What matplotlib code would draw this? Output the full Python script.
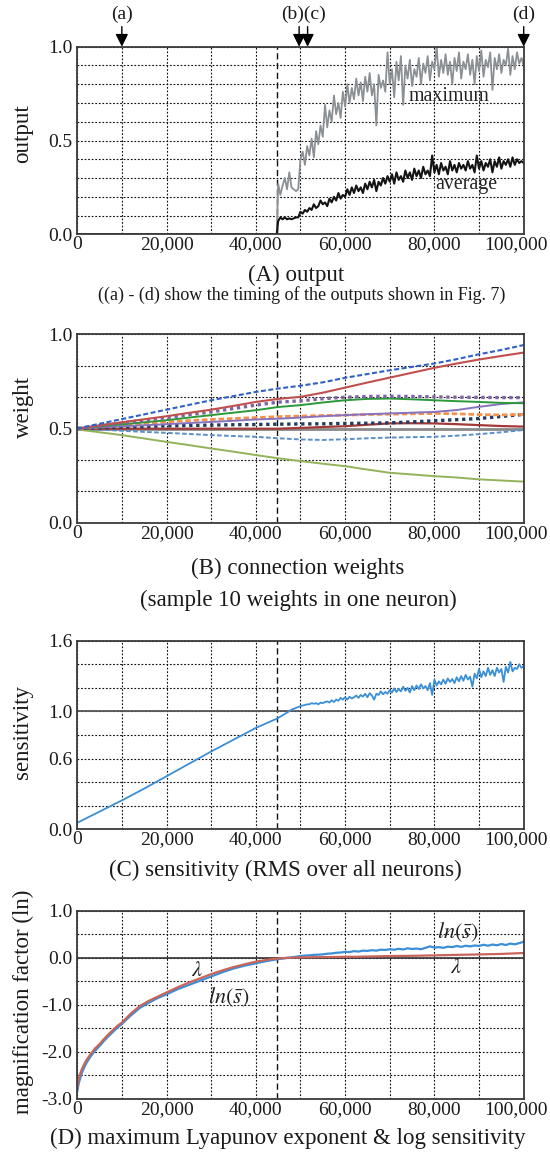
import numpy as np
import matplotlib
matplotlib.use("Agg")
import matplotlib.pyplot as plt
from matplotlib.transforms import blended_transform_factory, ScaledTranslation

plt.rcParams['font.family'] = ['Liberation Serif', 'DejaVu Serif']
plt.rcParams['mathtext.fontset'] = 'stix'
plt.rcParams['axes.unicode_minus'] = False

# ---------------------------------------------------------------- data
ONSET = 44800                       # step where the network starts to fire
ARROW_STEPS = [10000, 49700, 51600, 100000]
ARROW_LABELS = ["(a)", "(b)(c)", "(d)"]
ARROW_LABEL_X = [10000, 50700, 100000]

# (A) output: maximum and average over neurons
out_steps = [0, 44700] + list(range(45000, 100001, 500))
out_max = [0.0, 0.0,
           0.27, 0.21, 0.26, 0.30, 0.24, 0.33, 0.25, 0.24, 0.23, 0.24,
           0.40, 0.44, 0.37, 0.47, 0.42, 0.51, 0.41, 0.55, 0.48, 0.58,
           0.52, 0.69, 0.57, 0.66, 0.60, 0.74, 0.64, 0.70, 0.62, 0.76,
           0.68, 0.80, 0.70, 0.78, 0.72, 0.83, 0.74, 0.81, 0.71, 0.84,
           0.76, 0.86, 0.74, 0.80, 0.58, 0.85, 0.78, 0.82, 0.76, 0.97,
           0.80, 0.88, 0.73, 0.92, 0.82, 0.95, 0.69, 0.90, 0.83, 0.93,
           0.79, 0.88, 0.84, 0.94, 0.80, 0.91, 0.86, 0.95, 0.82, 0.92,
           0.88, 1.00, 0.84, 0.93, 0.86, 0.96, 0.85, 0.92, 0.80, 0.94,
           0.87, 0.97, 0.83, 0.92, 0.88, 0.96, 0.85, 0.93, 0.80, 0.95,
           0.87, 0.98, 0.84, 0.93, 0.89, 0.97, 0.77, 0.94, 0.88, 0.96,
           0.86, 0.93, 0.90, 0.99, 0.85, 0.95, 0.88, 0.97, 0.91, 0.94,
           0.90]
out_avg = [0.0, 0.0,
           0.07, 0.09, 0.08, 0.09, 0.08, 0.085, 0.08, 0.085, 0.09, 0.09,
           0.12, 0.11, 0.13, 0.12, 0.14, 0.13, 0.16, 0.14, 0.15, 0.18,
           0.16, 0.17, 0.15, 0.19, 0.17, 0.20, 0.18, 0.22, 0.19, 0.21,
           0.20, 0.24, 0.21, 0.25, 0.22, 0.26, 0.23, 0.25, 0.22, 0.27,
           0.24, 0.28, 0.25, 0.29, 0.23, 0.28, 0.26, 0.30, 0.27, 0.31,
           0.28, 0.32, 0.27, 0.33, 0.29, 0.31, 0.28, 0.34, 0.30, 0.33,
           0.29, 0.35, 0.31, 0.34, 0.30, 0.36, 0.32, 0.34, 0.31, 0.42,
           0.33, 0.37, 0.32, 0.38, 0.34, 0.36, 0.32, 0.39, 0.34, 0.37,
           0.33, 0.38, 0.35, 0.37, 0.34, 0.39, 0.35, 0.37, 0.33, 0.42,
           0.35, 0.39, 0.34, 0.38, 0.36, 0.40, 0.33, 0.39, 0.36, 0.41,
           0.35, 0.39, 0.37, 0.40, 0.36, 0.41, 0.37, 0.40, 0.38, 0.39,
           0.38]

# (B) ten sampled connection weights of one neuron
w_steps = list(range(0, 100001, 5000))
w_blue = [0.500, 0.525, 0.550, 0.575, 0.600, 0.625, 0.650, 0.672, 0.694, 0.712, 0.727,
          0.745, 0.769, 0.789, 0.809, 0.827, 0.845, 0.868, 0.894, 0.917, 0.943]
w_red = [0.500, 0.516, 0.533, 0.549, 0.565, 0.583, 0.600, 0.620, 0.641, 0.657, 0.668,
         0.690, 0.717, 0.744, 0.770, 0.796, 0.822, 0.845, 0.866, 0.885, 0.903]
w_purple = [0.500, 0.514, 0.529, 0.544, 0.558, 0.573, 0.588, 0.606, 0.624, 0.640, 0.647,
            0.658, 0.666, 0.670, 0.671, 0.670, 0.668, 0.666, 0.665, 0.664, 0.664]
w_green = [0.500, 0.511, 0.522, 0.533, 0.544, 0.558, 0.571, 0.584, 0.597, 0.614, 0.624,
           0.638, 0.650, 0.657, 0.659, 0.655, 0.650, 0.645, 0.641, 0.636, 0.634]
w_lavender = [0.500, 0.506, 0.512, 0.517, 0.523, 0.529, 0.535, 0.541, 0.548, 0.552, 0.558,
              0.565, 0.571, 0.576, 0.580, 0.584, 0.588, 0.598, 0.615, 0.630, 0.639]
w_orange = [0.500, 0.509, 0.518, 0.527, 0.535, 0.542, 0.548, 0.553, 0.558, 0.563, 0.566,
            0.569, 0.571, 0.574, 0.576, 0.578, 0.580, 0.578, 0.574, 0.572, 0.575]
w_navy = [0.500, 0.504, 0.508, 0.511, 0.514, 0.516, 0.518, 0.520, 0.521, 0.523, 0.524,
          0.525, 0.527, 0.528, 0.530, 0.535, 0.541, 0.547, 0.553, 0.564, 0.575]
w_darkred = [0.500, 0.499, 0.499, 0.499, 0.499, 0.499, 0.499, 0.499, 0.499, 0.499, 0.503,
             0.508, 0.512, 0.520, 0.527, 0.528, 0.527, 0.523, 0.518, 0.513, 0.510]
w_lightblue = [0.500, 0.494, 0.488, 0.482, 0.477, 0.471, 0.465, 0.460, 0.456, 0.448, 0.442,
               0.439, 0.443, 0.448, 0.452, 0.454, 0.456, 0.462, 0.470, 0.480, 0.492]
w_olive = [0.495, 0.480, 0.465, 0.447, 0.429, 0.412, 0.394, 0.377, 0.359, 0.342, 0.327,
           0.313, 0.300, 0.282, 0.265, 0.256, 0.247, 0.240, 0.230, 0.224, 0.218]

# (C) sensitivity, RMS over all neurons
sens_steps = [0, 5000, 10000, 15000, 20000, 25000, 30000, 35000, 40000,
              44800, 47000, 48000, 49000] + list(range(50000, 100001, 500))
sens = [0.055, 0.150, 0.245, 0.345, 0.450, 0.555, 0.660, 0.760, 0.860,
        0.940, 0.990, 1.015, 1.030,
        1.045, 1.050, 1.055, 1.060, 1.060, 1.070, 1.065, 1.070, 1.060, 1.075,
        1.070, 1.080, 1.085, 1.075, 1.095, 1.080, 1.100, 1.090, 1.115, 1.100,
        1.120, 1.100, 1.125, 1.110, 1.120, 1.135, 1.115, 1.140, 1.125, 1.150,
        1.120, 1.155, 1.135, 1.100, 1.150, 1.140, 1.170, 1.145, 1.165, 1.150,
        1.180, 1.160, 1.195, 1.165, 1.190, 1.170, 1.210, 1.175, 1.200, 1.160,
        1.215, 1.180, 1.220, 1.190, 1.230, 1.195, 1.215, 1.180, 1.240, 1.140,
        1.270, 1.220, 1.255, 1.230, 1.270, 1.235, 1.280, 1.250, 1.275, 1.240,
        1.290, 1.255, 1.300, 1.260, 1.310, 1.270, 1.295, 1.210, 1.320, 1.280,
        1.360, 1.290, 1.340, 1.300, 1.370, 1.310, 1.350, 1.300, 1.370, 1.330,
        1.360, 1.250, 1.380, 1.330, 1.420, 1.340, 1.370, 1.360, 1.400, 1.370,
        1.385]

# (D) maximum Lyapunov exponent and log of the sensitivity
d_early_steps = [0, 250, 500, 1000, 1500, 2000, 3000, 4000, 5000, 6000, 7000, 8000,
                 9000, 10000, 12000, 14000, 16000, 18000, 20000, 22500, 25000, 27500,
                 30000, 32500, 35000, 37500, 40000, 42500, 45000, 47500]
lns_steps = d_early_steps + list(range(50000, 100001, 1000))
ln_sens = [-2.85, -2.72, -2.62, -2.46, -2.35, -2.25, -2.10, -1.98, -1.88, -1.77,
           -1.67, -1.58, -1.49, -1.41, -1.23, -1.07, -0.96, -0.86, -0.78, -0.67,
           -0.58, -0.49, -0.40, -0.31, -0.23, -0.17, -0.12, -0.07, -0.03, 0.00,
           0.035, 0.045, 0.050, 0.060, 0.065, 0.070, 0.085, 0.090, 0.105, 0.110,
           0.125, 0.120, 0.140, 0.130, 0.150, 0.145, 0.160, 0.150, 0.170, 0.165,
           0.180, 0.170, 0.190, 0.175, 0.200, 0.185, 0.195, 0.180, 0.210, 0.240,
           0.215, 0.225, 0.210, 0.235, 0.225, 0.250, 0.230, 0.255, 0.240, 0.260,
           0.250, 0.275, 0.255, 0.280, 0.265, 0.290, 0.270, 0.300, 0.285, 0.310,
           0.340]
lam_steps = d_early_steps + list(range(50000, 100001, 2500))
lyapunov = [-2.78, -2.62, -2.52, -2.38, -2.28, -2.19, -2.05, -1.93, -1.84, -1.73,
            -1.63, -1.54, -1.45, -1.38, -1.19, -1.03, -0.92, -0.83, -0.74, -0.63,
            -0.53, -0.44, -0.35, -0.27, -0.20, -0.14, -0.085, -0.045, -0.015, 0.0,
            0.005, 0.010, 0.012, 0.015, 0.020, 0.020, 0.025, 0.030, 0.035, 0.038,
            0.040, 0.045, 0.050, 0.055, 0.060, 0.065, 0.070, 0.075, 0.080, 0.090,
            0.100]

# ---------------------------------------------------------------- layout
W, H = 550, 1152
fig = plt.figure(figsize=(W / 100, H / 100), dpi=100)
LEFT, RIGHT = 77.2, 523.7


def px_rect(top, bottom):
    return [LEFT / W, 1 - bottom / H, (RIGHT - LEFT) / W, (bottom - top) / H]


def fig_text(x, y, s, **kw):
    fig.text(x / W, 1 - y / H, s, **kw)


TICK_FS = 14
LABEL_FS = 16.5
CAP_FS = 16.5


def style(ax, ylim, yticks, ylabels):
    ax.set_xlim(0, 100000)
    ax.set_ylim(*ylim)
    xt = list(range(0, 100001, 10000))
    ax.set_xticks(xt)
    ax.set_xticklabels(["{:,}".format(v) if v % 20000 == 0 else "" for v in xt])
    ax.set_yticks(yticks)
    ax.set_yticklabels(ylabels)
    ax.grid(True, color="#111111", lw=0.8, ls=(0, (1.6, 1.6)))
    ax.set_axisbelow(True)
    ax.tick_params(axis="both", length=0, labelsize=TICK_FS, colors="#1a1a1a")
    ax.tick_params(axis="x", pad=1.5)
    ax.tick_params(axis="y", pad=3.5)
    # keep the last step label inside the figure edge
    last = ax.get_xticklabels()[-1]
    last.set_transform(last.get_transform() +
                       ScaledTranslation(-8 / 100, 0, fig.dpi_scale_trans))
    for sp in ax.spines.values():
        sp.set_color("#3a3a3a")
        sp.set_linewidth(1.3)
        sp.set_zorder(5)
    ax.axvline(ONSET, color="#111111", lw=1.0, ls=(0, (4.5, 2.5)), zorder=1.5)


def frac_labels(ticks, shown, fmt="{:.1f}"):
    return [fmt.format(t) if any(abs(t - s) < 1e-9 for s in shown) else "" for t in ticks]


# (A) output ------------------------------------------------------------
axA = fig.add_axes(px_rect(46.7, 234.3))
ytA = [round(0.1 * i, 1) for i in range(11)]
style(axA, (0, 1), ytA, frac_labels(ytA, [0.0, 0.5, 1.0]))
axA.plot(out_steps, out_max, color="#8b9095", lw=1.3, zorder=3)
axA.plot(out_steps, out_avg, color="#141414", lw=1.5, zorder=4)
axA.text(83300, 0.733, "maximum", fontsize=14.3, ha="center", va="center",
         color="#222222", zorder=6)
axA.text(87200, 0.263, "average", fontsize=14.3, ha="center", va="center",
         color="#222222", zorder=6)

trA = blended_transform_factory(axA.transData, axA.transAxes)
for xs in ARROW_STEPS:
    axA.annotate("", xy=(xs, 1.0), xycoords=trA, xytext=(xs, 1.107), textcoords=trA,
                 arrowprops=dict(arrowstyle="-|>", color="black", lw=1.0,
                                 mutation_scale=19, shrinkA=0, shrinkB=0),
                 annotation_clip=False)
for lx, lab in zip(ARROW_LABEL_X, ARROW_LABELS):
    axA.text(lx, 1.172, lab, transform=trA, fontsize=14, ha="center", va="center",
             color="#1a1a1a", clip_on=False)

# (B) connection weights -------------------------------------------------
axB = fig.add_axes(px_rect(334.3, 522.7))
ytB = [0, 1 / 6, 2 / 6, 0.5, 4 / 6, 5 / 6, 1.0]
style(axB, (0, 1), ytB, ["0.0", "", "", "0.5", "", "", "1.0"])
axB.axhline(0.5, color="#8a8a8a", lw=2.0, zorder=2)
weight_styles = [
    (w_olive, "#93b35a", "-", 1.4),
    (w_lightblue, "#5a8fca", (0, (2.4, 1.2)), 1.4),
    (w_darkred, "#a23a37", "-", 1.6),
    (w_navy, "#1f3c62", (0, (1.0, 1.1)), 2.4),
    (w_orange, "#f5914a", (0, (2.0, 1.0)), 2.0),
    (w_lavender, "#8773bd", "-", 1.4),
    (w_green, "#2b9939", "-", 1.4),
    (w_purple, "#8064a2", (0, (1.0, 1.1)), 2.4),
    (w_red, "#c0504d", "-", 1.5),
    (w_blue, "#2f62c4", (0, (2.4, 1.2)), 1.5),
]
for vals, col, ls, lw in weight_styles:
    axB.plot(w_steps, vals, color=col, ls=ls, lw=lw, zorder=3)

# (C) sensitivity ---------------------------------------------------------
axC = fig.add_axes(px_rect(640.7, 829.3))
ytC = [round(0.2 * i, 1) for i in range(9)]
style(axC, (0, 1.6), ytC, frac_labels(ytC, [0.0, 0.6, 1.0, 1.6]))
axC.axhline(1.0, color="#555555", lw=1.3, zorder=2)
axC.plot(sens_steps, sens, color="#3a8fd6", lw=1.3, zorder=3)

# (D) Lyapunov exponent & log sensitivity -------------------------------
axD = fig.add_axes(px_rect(910.7, 1098.7))
ytD = [-3 + 0.5 * i for i in range(9)]
style(axD, (-3, 1), ytD, frac_labels(ytD, [-3, -2, -1, 0, 1]))
axD.axhline(0.0, color="#333333", lw=1.2, zorder=2)
axD.plot(lns_steps, ln_sens, color="#3a8fd6", lw=1.6, zorder=3)
axD.plot(lam_steps, lyapunov, color="#c8645a", lw=1.6, zorder=4)
axD.text(25500, -0.30, r"$\lambda$", fontsize=16, ha="left", va="center", color="#222222")
axD.text(29400, -0.83, r"$ln(\bar{s})$", fontsize=16, ha="left", va="center", color="#222222")
axD.text(85200, 0.55, r"$ln(\bar{s})$", fontsize=16, ha="center", va="center", color="#222222")
axD.text(84800, -0.23, r"$\lambda$", fontsize=16, ha="center", va="center", color="#222222")

# ---------------------------------------------------------------- labels
ylab_kw = dict(rotation=90, ha="center", va="center", fontsize=LABEL_FS, color="#1a1a1a")
fig_text(23, 134, "output", **ylab_kw)
fig_text(23, 407, "weight", **ylab_kw)
fig_text(23, 732, "sensitivity", **ylab_kw)
fig_text(23, 1002, "magnification factor (ln)", **ylab_kw)

cap_kw = dict(ha="center", va="center", color="#1a1a1a")
fig_text(296, 275, "(A) output", fontsize=CAP_FS, **cap_kw)
fig_text(302, 295, "((a) - (d) show the timing of the outputs shown in Fig. 7)",
         fontsize=13, **cap_kw)
fig_text(298, 568, "(B) connection weights", fontsize=CAP_FS, **cap_kw)
fig_text(298, 600, "(sample 10 weights in one neuron)", fontsize=CAP_FS, **cap_kw)
fig_text(285, 870, "(C) sensitivity (RMS over all neurons)", fontsize=CAP_FS, **cap_kw)
fig_text(288, 1138, "(D) maximum Lyapunov exponent & log sensitivity", fontsize=CAP_FS, **cap_kw)

fig.savefig("out.png", dpi=100, facecolor="white")
